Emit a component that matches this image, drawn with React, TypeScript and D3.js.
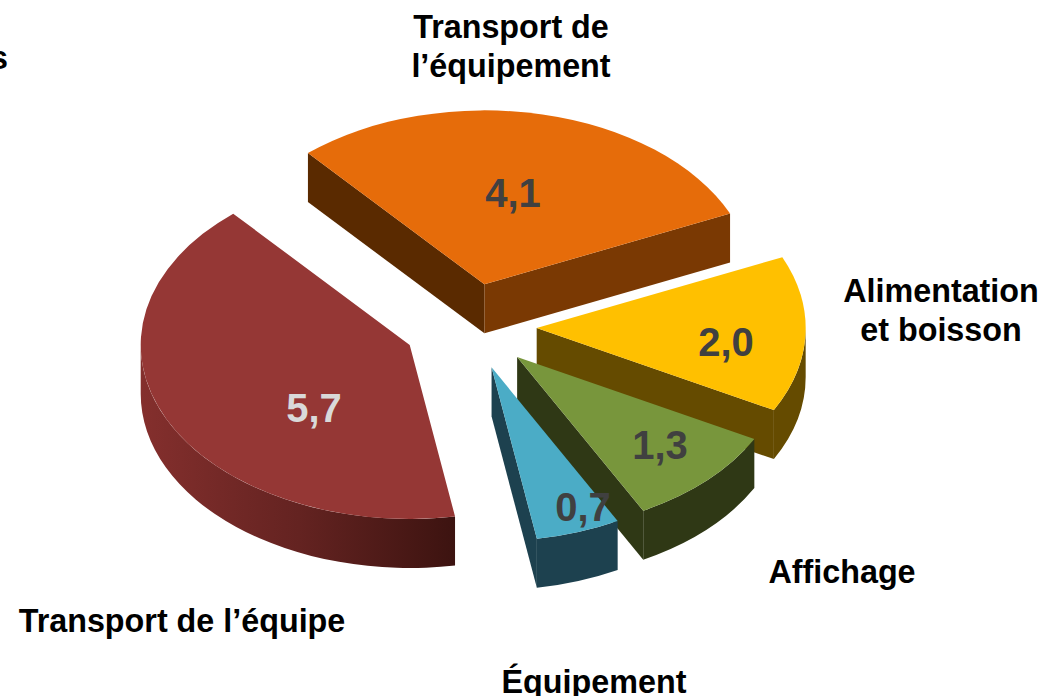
import React from 'react';
import * as d3 from 'd3';

const categories = ["Transport de l’équipe", "Transport de l’équipement", "Alimentation et boisson", "Affichage", "Équipement"];
const values = [5.7, 4.1, 2.0, 1.3, 0.7];

const width = 1043;
const height = 696;

// pie projection
const cx = 470;
const cy = 326.5;
const rx = 269;
const ry = 174;
const depth = 49;
const explode = 0.248;
const startDeg = 170.3;

const topColors = ['#953735', '#E66C0A', '#FFC000', '#78963C', '#4BACC6'];
const wallColors = ['url(#redWall)', '#7A3903', '#654B00', '#2F3815', '#1D414F'];
const startWallColors = ['#7A2C2A', '#5A2A00', '#654B00', '#2F3815', '#1D414F'];
const valueColors = ['#D9D9D9', '#404040', '#404040', '#404040', '#404040'];

// label boxes sit by hand, as in the original slide
const valuePos = [[314, 422], [513, 207], [726, 356], [660, 459], [583, 521]];
const labelLines = [
  { lines: ['Transport de l’équipe'], x: 182, y: 632 },
  { lines: ['Transport de', 'l’équipement'], x: 511, y: 38 },
  { lines: ['Alimentation', 'et boisson'], x: 941, y: 302 },
  { lines: ['Affichage'], x: 842, y: 583 },
  { lines: ['Équipement'], x: 594, y: 693 },
];

const toRad = (d: number) => (d * Math.PI) / 180;

const pie = d3
  .pie<number>()
  .sort(null)
  .startAngle(toRad(startDeg))
  .endAngle(toRad(startDeg + 360));

// d3 pie angles start at 12 o'clock, screen angles at 3 o'clock
const screen = (a: number) => a - Math.PI / 2;

const App = () => {
  const slices = pie(values);
  const arc = d3.arc<d3.PieArcDatum<number>>().innerRadius(0).outerRadius(rx);

  return (
    <svg
      width={width}
      height={height}
      style={{ position: 'absolute', left: 0, top: 0 }}
      fontFamily="'Liberation Sans', Arial, sans-serif"
      fontWeight="bold"
    >
      <defs>
        <linearGradient id="redWall" gradientUnits="userSpaceOnUse" x1={141} x2={456} y1={0} y2={0}>
          <stop offset="0%" stopColor="#842F2D" />
          <stop offset="50%" stopColor="#642321" />
          <stop offset="100%" stopColor="#3C1310" />
        </linearGradient>
      </defs>

      {slices.map((s, i) => {
        const t0 = screen(s.startAngle);
        const t1 = screen(s.endAngle);
        const mid = (t0 + t1) / 2;
        const ax = cx + explode * rx * Math.cos(mid);
        const ay = cy + explode * ry * Math.sin(mid);
        const px = (t: number) => ax + rx * Math.cos(t);
        const py = (t: number) => ay + ry * Math.sin(t);

        const walls: React.ReactNode[] = [];

        // radial walls only show when they face the viewer
        if (Math.cos(t0) < 0) {
          walls.push(
            <path
              key="start"
              fill={startWallColors[i]}
              d={`M${ax},${ay}L${px(t0)},${py(t0)}L${px(t0)},${py(t0) + depth}L${ax},${ay + depth}Z`}
            />
          );
        }
        if (Math.cos(t1) > 0) {
          walls.push(
            <path
              key="end"
              fill={wallColors[i] === 'url(#redWall)' ? startWallColors[i] : wallColors[i]}
              d={`M${ax},${ay}L${px(t1)},${py(t1)}L${px(t1)},${py(t1) + depth}L${ax},${ay + depth}Z`}
            />
          );
        }

        // rim, only the front half of the ellipse
        [0, Math.PI * 2].forEach((k) => {
          const lo = Math.max(t0, k);
          const hi = Math.min(t1, k + Math.PI);
          if (hi <= lo) return;
          walls.push(
            <path
              key={`rim${k}`}
              fill={wallColors[i]}
              d={`M${px(lo)},${py(lo)}A${rx},${ry} 0 0 1 ${px(hi)},${py(hi)}L${px(hi)},${py(hi) + depth}A${rx},${ry} 0 0 0 ${px(lo)},${py(lo) + depth}Z`}
            />
          );
        });

        return (
          <g key={categories[i]}>
            {walls}
            <path
              d={arc(s) as string}
              fill={topColors[i]}
              transform={`translate(${ax},${ay}) scale(1,${ry / rx})`}
            />
          </g>
        );
      })}

      {values.map((v, i) => (
        <text
          key={i}
          x={valuePos[i][0]}
          y={valuePos[i][1]}
          textAnchor="middle"
          fontSize={40}
          fill={valueColors[i]}
        >
          {v.toFixed(1).replace('.', ',')}
        </text>
      ))}

      {labelLines.map((l) =>
        l.lines.map((line, j) => (
          <text key={line} x={l.x} y={l.y + j * 39} textAnchor="middle" fontSize={32.3} fill="#000">
            {line}
          </text>
        ))
      )}

      {/* label cut off by the left edge in the source image */}
      <text x={8} y={69} textAnchor="end" fontSize={32.3} fill="#000">
        s
      </text>
    </svg>
  );
};

export default App;
